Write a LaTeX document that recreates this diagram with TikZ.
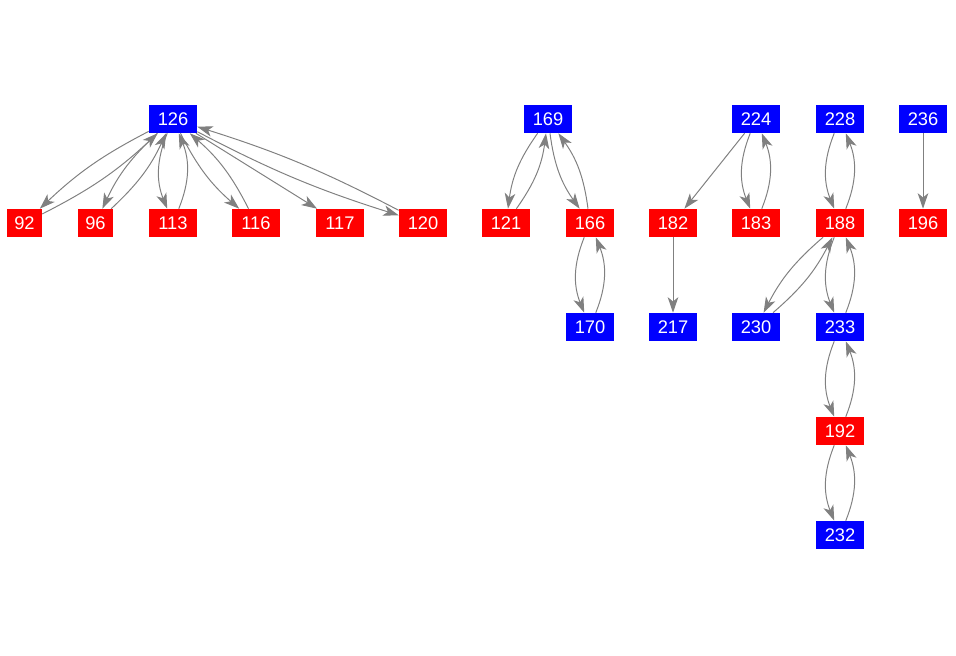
\documentclass[tikz,border=0pt]{standalone}
\usepackage{fontspec}
\setmainfont{Liberation Sans}
\usepackage{tikz}
\usetikzlibrary{arrows.meta}

\tikzset{
  vbox/.style={draw=none, inner sep=0pt, minimum width=1.2cm, minimum height=0.7cm,
    text=white, font=\fontsize{13}{15}\selectfont},
  rbox/.style={vbox, fill=red},
  bbox/.style={vbox, fill=blue},
  short/.style={minimum width=0.875cm},
  link/.style={draw=gray, line width=0.7pt, -{Stealth[length=11pt, width=7.5pt, inset=3pt]}},
}

\begin{document}
\begin{tikzpicture}[x=0.025cm, y=0.025cm]
\path[use as bounding box] (0,0) rectangle (956,-656);

%% top row
\node[bbox] (n126) at (173, -119) {126};
\node[bbox] (n169) at (548, -119) {169};
\node[bbox] (n224) at (756, -119) {224};
\node[bbox] (n228) at (840, -119) {228};
\node[bbox] (n236) at (923, -119) {236};

%% second row
\node[rbox, short] (n92) at (24.5, -223) {92};
\node[rbox, short] (n96) at (95.5, -223) {96};
\node[rbox] (n113) at (173, -223) {113};
\node[rbox] (n116) at (256, -223) {116};
\node[rbox] (n117) at (340, -223) {117};
\node[rbox] (n120) at (423, -223) {120};
\node[rbox] (n121) at (506, -223) {121};
\node[rbox] (n166) at (590, -223) {166};
\node[rbox] (n182) at (673, -223) {182};
\node[rbox] (n183) at (756, -223) {183};
\node[rbox] (n188) at (840, -223) {188};
\node[rbox] (n196) at (923, -223) {196};

%% third row
\node[bbox] (n170) at (590, -327) {170};
\node[bbox] (n217) at (673, -327) {217};
\node[bbox] (n230) at (756, -327) {230};
\node[bbox] (n233) at (840, -327) {233};

%% lower rows
\node[rbox] (n192) at (840, -431) {192};
\node[bbox] (n232) at (840, -535) {232};

%% 126
\draw[link] (n126) to[bend right=8] (n92);
\draw[link] (n92) to[bend right=8] (n126);
\draw[link] (n126) to[bend right=11] (n96);
\draw[link] (n96) to[bend right=11] (n126);
\draw[link] (n126) to[bend right=22] (n113);
\draw[link] (n113) to[bend right=22] (n126);
\draw[link] (n126) to[bend right=11] (n116);
\draw[link] (n116) to[bend right=11] (n126);
\draw[link] (n126) -- (n117);
\draw[link] (n126) to[bend right=5] (n120);
\draw[link] (n120) to[bend right=5] (n126);

%% 169
\draw[link] (n169) to[bend right=14] (n121);
\draw[link] (n121) to[bend right=14] (n169);
\draw[link] (n169) to[bend right=14] (n166);
\draw[link] (n166) to[bend right=14] (n169);
\draw[link] (n166) to[bend right=22] (n170);
\draw[link] (n170) to[bend right=22] (n166);

%% 224
\draw[link] (n224) -- (n182);
\draw[link] (n182) -- (n217);
\draw[link] (n224) to[bend right=22] (n183);
\draw[link] (n183) to[bend right=22] (n224);

%% 228 and below
\draw[link] (n228) to[bend right=22] (n188);
\draw[link] (n188) to[bend right=22] (n228);
\draw[link] (n188) to[bend right=11] (n230);
\draw[link] (n230) to[bend right=11] (n188);
\draw[link] (n188) to[bend right=22] (n233);
\draw[link] (n233) to[bend right=22] (n188);
\draw[link] (n233) to[bend right=22] (n192);
\draw[link] (n192) to[bend right=22] (n233);
\draw[link] (n192) to[bend right=22] (n232);
\draw[link] (n232) to[bend right=22] (n192);

\draw[link] (n236) -- (n196);

\end{tikzpicture}
\end{document}
